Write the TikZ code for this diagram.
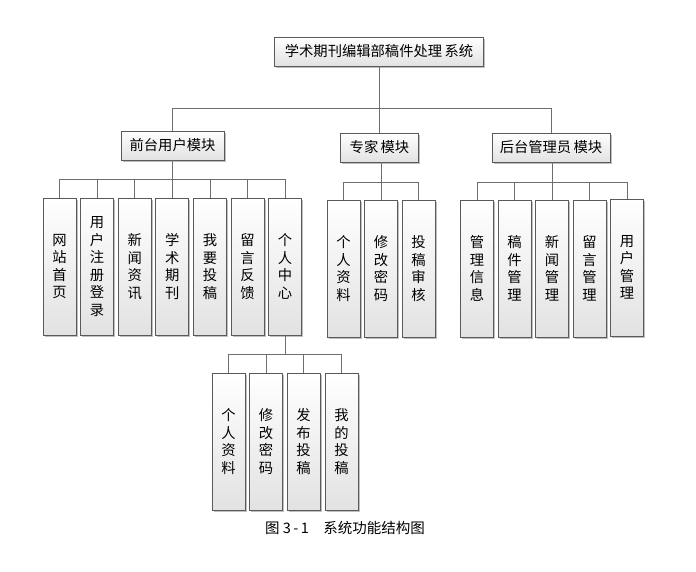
\documentclass[tikz,border=0pt]{standalone}
\usepackage{fontspec}
\newfontfamily\cjk{Noto Sans CJK SC}
\usetikzlibrary{shadows}
\definecolor{boxline}{HTML}{5A5A5A}
\definecolor{boxbot}{HTML}{E2E2E2}
\definecolor{linegray}{HTML}{6E6E6E}
\begin{document}
\begin{tikzpicture}[x=1pt,y=-1pt]
\tikzset{
 box/.style={draw=boxline, line width=0.8pt, top color=white, bottom color=boxbot,
   drop shadow={shadow xshift=1.5pt,shadow yshift=-1.5pt,opacity=0.25,fill=black},
   inner sep=0pt, font=\cjk\fontsize{14.3}{17.5}\selectfont, align=center},
 hbox/.style={box, minimum height=29},
 vbox/.style={box, minimum width=33, minimum height=137},
 conn/.style={draw=linegray, line width=0.8pt}
}
\path[use as bounding box] (0,0) rectangle (696,571);
% level 1
\node[hbox, minimum width=209] (root) at (379,51.5) {学术期刊编辑部稿件处理\,系统};
% level 2
\node[hbox, minimum width=103] (fu) at (172.5,145.5) {前台用户模块};
\node[hbox, minimum width=78] (zj) at (379.5,147.5) {专家\,模块};
\node[hbox, minimum width=118] (ht) at (551,147.5) {后台管理员\,模块};
% level 3 front
\node[vbox] (a1) at (59.5,266.5) {网\\站\\首\\页};
\node[vbox] (a2) at (97.1,266.5) {用\\户\\注\\册\\登\\录};
\node[vbox] (a3) at (134.7,266.5) {新\\闻\\资\\讯};
\node[vbox] (a4) at (172.3,266.5) {学\\术\\期\\刊};
\node[vbox] (a5) at (209.9,266.5) {我\\要\\投\\稿};
\node[vbox] (a6) at (247.5,266.5) {留\\言\\反\\馈};
\node[vbox] (a7) at (285.1,266.5) {个\\人\\中\\心};
% level 3 expert
\node[vbox] (e1) at (343.5,268.5) {个\\人\\资\\料};
\node[vbox] (e2) at (381,268.5) {修\\改\\密\\码};
\node[vbox] (e3) at (418.5,268.5) {投\\稿\\审\\核};
% level 3 admin
\node[vbox] (m1) at (477,268.5) {管\\理\\信\\息};
\node[vbox] (m2) at (514.5,268.5) {稿\\件\\管\\理};
\node[vbox] (m3) at (552,268.5) {新\\闻\\管\\理};
\node[vbox] (m4) at (589.5,268.5) {留\\言\\管\\理};
\node[vbox] (m5) at (627,267.5) {用\\户\\管\\理};
% level 4
\node[vbox] (p1) at (228.5,441.5) {个\\人\\资\\料};
\node[vbox] (p2) at (266,441.5) {修\\改\\密\\码};
\node[vbox] (p3) at (303.5,441.5) {发\\布\\投\\稿};
\node[vbox] (p4) at (341.5,441.5) {我\\的\\投\\稿};
% caption
\node[font=\cjk\fontsize{14.5}{16}\selectfont, inner sep=0pt] (cap) at (345,528) {图\ 3\,-\,1\quad 系统功能结构图};
% junction coordinates
\coordinate (j1) at (379,108);
\coordinate (j2) at (172.5,179);
\coordinate (j3) at (381,182);
\coordinate (j4) at (552,182);
\coordinate (j5) at (285.1,354);
% connectors
\draw[conn] (root.south) -- (j1);
\foreach \c in {fu,zj,ht} \draw[conn] (j1) -| (\c.north);
\draw[conn] (fu.south) -- (j2);
\foreach \c in {a1,a2,a3,a4,a5,a6,a7} \draw[conn] (j2) -| (\c.north);
\draw[conn] (zj.south -| j3) -- (j3);
\foreach \c in {e1,e2,e3} \draw[conn] (j3) -| (\c.north);
\draw[conn] (ht.south -| j4) -- (j4);
\foreach \c in {m1,m2,m3,m4,m5} \draw[conn] (j4) -| (\c.north);
\draw[conn] (a7.south) -- (j5);
\foreach \c in {p1,p2,p3,p4} \draw[conn] (j5) -| (\c.north);
\end{tikzpicture}
\end{document}
